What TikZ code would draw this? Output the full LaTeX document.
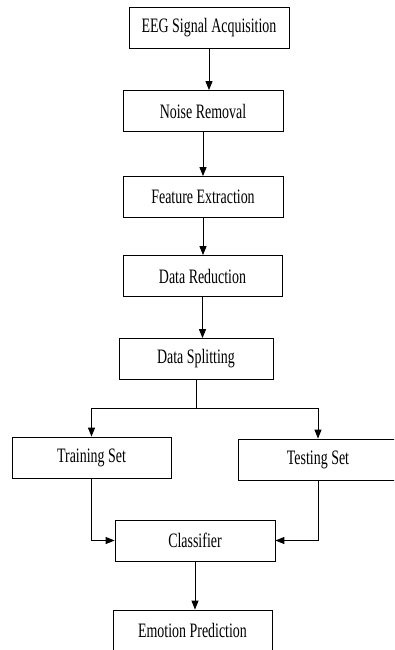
\documentclass[tikz,border=0pt]{standalone}
\usepackage{fontspec}
\setmainfont[FakeStretch=0.68]{Liberation Serif}
\usetikzlibrary{arrows.meta}

\tikzstyle{stepbox}=[draw,line width=0.8pt,minimum height=41pt,inner sep=0pt,font=\fontsize{20.5}{24}\selectfont]
\tikzstyle{arrowdecorate}=[->,>={Triangle[length=9pt,width=7pt]},line width=0.9pt]
\tikzstyle{edge}=[draw,line width=0.9pt,-]

\begin{document}
\begin{tikzpicture}[x=1pt,y=-1pt]
      \clip (0,0) rectangle (394,650);
      %nodes
      \foreach \nodename/\x/\y/\w/\value in {
        acq/209/27.5/160/EEG Signal Acquisition, noise/203/111/160/Noise Removal,
        feat/203/197/160/Feature Extraction, red/202.5/276/159/Data Reduction,
        split/196/359/154/Data Splitting, train/91.5/457.5/159/Training Set,
        test/318/459.5/160/Testing Set, clf/195/540.5/160/Classifier,
        emo/192.5/630.5/159/Emotion Prediction}
      {
        \node[stepbox, minimum width=\w pt] (\nodename) at (\x,\y) {\value};
      };
      %edges
      \path
      \foreach \startnode/\endnode in {acq/noise, noise/feat, feat/red, red/split, clf/emo}
      {
        (\startnode.south) edge[arrowdecorate] (\startnode.south |- \endnode.north)
      };
      \draw[edge] (split.south) -- ++(0,29) coordinate (fork);
      \draw[arrowdecorate] (fork) -| (train.north);
      \draw[arrowdecorate] (fork) -| (test.north);
      \draw[arrowdecorate] (train.south) |- (clf.west);
      \draw[arrowdecorate] (test.south) |- (clf.east);
    \end{tikzpicture}
\end{document}
